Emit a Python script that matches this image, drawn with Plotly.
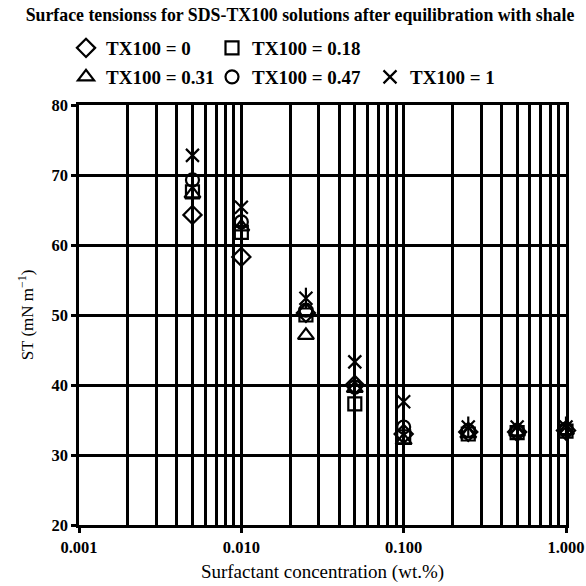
import plotly.graph_objects as go

conc = [0.005, 0.01, 0.025, 0.05, 0.1, 0.25, 0.5, 1.0]
st_tx0 = [64.3, 58.3, 50.3, 40.0, 33.0, 33.3, 33.3, 33.5]
st_tx018 = [67.6, 61.8, 50.0, 37.3, 32.6, 33.0, 33.2, 33.4]
st_tx031 = [67.3, 62.6, 47.1, 39.5, 32.1, 33.0, 33.3, 33.5]
st_tx047 = [69.3, 63.3, 50.7, 39.7, 34.0, 33.5, 33.5, 33.7]
st_tx1 = [72.8, 65.4, 52.4, 43.3, 37.6, 34.0, 34.0, 34.0]

names = ["TX100 = 0", "TX100 = 0.18", "TX100 = 0.31", "TX100 = 0.47", "TX100 = 1"]

FONT = "Liberation Serif"
fig = go.Figure()

def add(y, name, symbol, size, legend, showlegend=True):
    fig.add_trace(go.Scatter(
        x=conc, y=y, mode="markers", name=name, legend=legend,
        showlegend=showlegend, cliponaxis=False,
        marker=dict(symbol=symbol, size=size, color="black",
                    line=dict(color="black", width=2.2)),
    ))

add(st_tx0, names[0], "diamond-open", 14, "legend")
add(st_tx018, names[1], "square-open", 13, "legend2")
add(st_tx031, names[2], "triangle-up-open", 14, "legend3")
add(st_tx047, names[3], "circle-open", 13, "legend4")
add(st_tx1, names[4], "x-thin-open", 13, "legend5")
add(st_tx1, names[4], "line-ns-open", 15, "legend5", showlegend=False)

def leg(xpx, ypx):
    return dict(x=xpx / 586, y=1 - ypx / 586, xref="container", yref="container",
                xanchor="left", yanchor="middle", orientation="h",
                bgcolor="rgba(0,0,0,0)", borderwidth=0,
                font=dict(family=FONT, size=19, color="black", weight="bold"))

fig.update_layout(
    width=586, height=586,
    margin=dict(l=79, r=20, t=105, b=61, autoexpand=False),
    paper_bgcolor="white", plot_bgcolor="white",
    title=dict(text="Surface tensionss for SDS-TX100 solutions after equilibration with shale",
               x=300 / 586, xanchor="center", y=1 - 15 / 586, yanchor="middle",
               xref="container", yref="container", automargin=False,
               font=dict(family=FONT, size=17.8, color="black", weight="bold")),
    legend=leg(66, 48),
    legend2=leg(212, 48),
    legend3=leg(66, 77),
    legend4=leg(212, 77),
    legend5=leg(370, 77),
)

axcommon = dict(showline=True, linecolor="black", linewidth=2.6, mirror=True,
                showgrid=True, gridcolor="black", gridwidth=2.6,
                ticks="outside", ticklen=5, tickwidth=2.6, tickcolor="black",
                zeroline=False, ticklabeloverflow="allow",
                tickfont=dict(family=FONT, size=16.5, color="black", weight="bold"))

fig.update_xaxes(type="log", range=[-3, 0.00001], dtick=1, tickformat=".3f",
                 minor=dict(dtick="D1", showgrid=True, gridcolor="black", gridwidth=2.6, ticks=""),
                 title=dict(text="Surfactant concentration (wt.%)", standoff=10,
                            font=dict(family=FONT, size=19, color="black")),
                 **axcommon)
fig.update_yaxes(range=[20, 80], dtick=10,
                 title=dict(text="ST (mN m<sup>\u22121</sup>)", standoff=14,
                            font=dict(family=FONT, size=17, color="black")),
                 **axcommon)

fig.write_html("out.html")
